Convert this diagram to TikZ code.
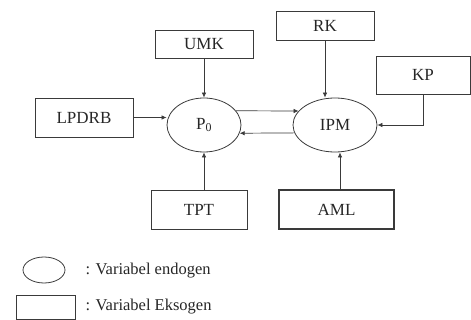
\documentclass[tikz,border=0pt]{standalone}
\usepackage{fontspec}
\setmainfont{Liberation Serif}
\newfontfamily\timesfont{Liberation Serif}
\usetikzlibrary{positioning, arrows.meta, shapes.geometric, calc}
\definecolor{lineGray}{HTML}{3A3A3A}

\begin{document}
\begin{tikzpicture}[x=1pt, y=-1pt,
  exo/.style={draw=lineGray, line width=0.8pt, rectangle, inner sep=0pt,
              font=\timesfont\fontsize{17}{17}\selectfont, text=black!85},
  endo/.style={draw=lineGray, line width=0.8pt, ellipse, inner sep=0pt,
               minimum width=74pt, minimum height=54pt,
               font=\timesfont\fontsize{17}{17}\selectfont, text=black!85},
  link/.style={-{Latex[length=5pt, width=4.5pt]}, line width=0.7pt, lineGray},
  legendtext/.style={anchor=west, font=\timesfont\fontsize{16.5}{16.5}\selectfont, text=black!85},
]
  \useasboundingbox (0,0) rectangle (471,320);

  \node[exo, minimum width=98pt, minimum height=28pt] (umk) at (204, 44) {UMK};
  \node[exo, minimum width=98pt, minimum height=29pt] (rk) at (325, 25.5) {RK};
  \node[exo, minimum width=94pt, minimum height=38pt] (kp) at (423, 75) {KP};
  \node[exo, minimum width=98pt, minimum height=39pt] (lpdrb) at (84, 117.5) {LPDRB};
  \node[exo, minimum width=96pt, minimum height=39pt] (tpt) at (199, 209.5) {TPT};
  \node[exo, minimum width=115pt, minimum height=39pt, line width=1.1pt] (aml) at (336.5, 209.5) {AML};

  \node[endo] (p0) at (204, 125) {P\textsubscript{0}};
  \node[endo, minimum width=84pt] (ipm) at (335, 125) {IPM};

  \draw[link] (lpdrb.east) -- (lpdrb.east -| p0.west);
  \draw[link] (umk.south) -- (p0.north);
  \draw[link] (rk.south) -- (rk.south |- ipm.north);
  \draw[link] (kp.south) |- (ipm.east);
  \draw[link] (p0.24) -- (ipm.159);
  \draw[link] (ipm.191) -- (p0.-13);
  \draw[link] (p0.south |- tpt.north) -- (p0.south);
  \draw[link] (ipm.south -| aml.north) ++(3.5,0) coordinate (amlup)
    (aml.north -| amlup) -- (amlup);

  % legend
  \node[draw=lineGray, line width=0.8pt, ellipse, minimum width=42pt,
        minimum height=26pt, inner sep=0pt] (lgendo) at (44, 270) {};
  \node[draw=lineGray, line width=0.8pt, rectangle, minimum width=59pt,
        minimum height=24pt, inner sep=0pt] (lgexo) at (45.5, 307) {};
  \node[legendtext] (lgendotext) at (82, 271) {: Variabel endogen};
  \node[legendtext] (lgexotext) at (82, 307) {: Variabel Eksogen};
\end{tikzpicture}
\end{document}
